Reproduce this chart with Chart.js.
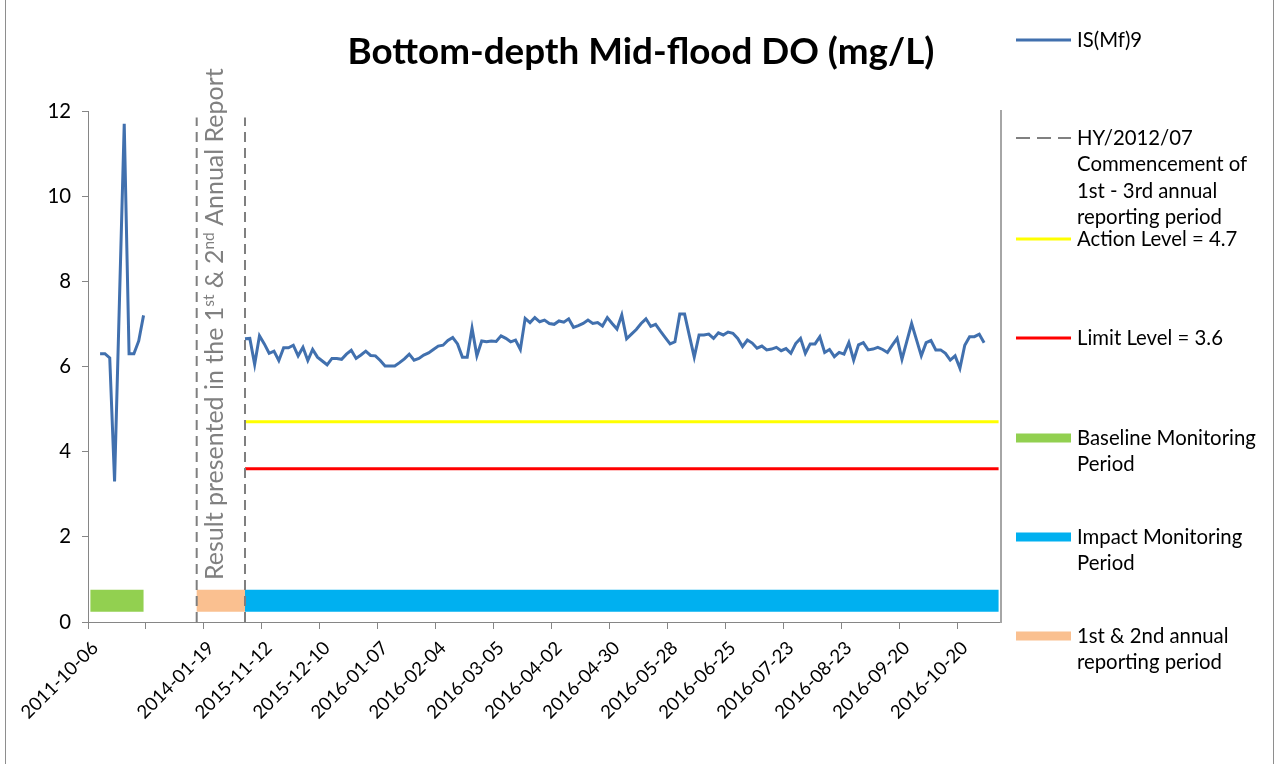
<!DOCTYPE html>
<html>
<head>
<meta charset="utf-8">
<title>Bottom-depth Mid-flood DO (mg/L)</title>
<script src="https://cdn.jsdelivr.net/npm/chart.js@4.4.1/dist/chart.umd.min.js"></script>
<style>
    html, body { margin: 0; padding: 0; background: #ffffff; }
    #wrap { position: relative; width: 1282px; height: 764px; }
</style>
</head>
<body>
<div id="wrap"><canvas id="grafico" width="1282" height="764"></canvas></div>
<script>
// x values are sample slots on the category axis (one slot per sampling day)
const slotCount = 189;
const tickEvery = 12;
const tickLabels = ['2011-10-06', '', '2014-01-19', '2015-11-12', '2015-12-10', '2016-01-07', '2016-02-04',
    '2016-03-05', '2016-04-02', '2016-04-30', '2016-05-28', '2016-06-25', '2016-07-23', '2016-08-23',
    '2016-09-20', '2016-10-20'];

const baselineStart = 2;
const baselineDO = [6.3, 6.3, 6.2, 3.3, 7.5, 11.7, 6.3, 6.3, 6.6, 7.2];

const impactStart = 32;
const impactDO = [
    6.65, 6.66, 6.05, 6.72, 6.53, 6.31, 6.36, 6.14, 6.44, 6.44,
    6.50, 6.25, 6.45, 6.14, 6.40, 6.22, 6.13, 6.04, 6.19, 6.19,
    6.17, 6.29, 6.38, 6.19, 6.27, 6.36, 6.26, 6.25, 6.14, 6.01,
    6.01, 6.01, 6.09, 6.18, 6.29, 6.15, 6.19, 6.27, 6.32, 6.40,
    6.48, 6.50, 6.61, 6.68, 6.53, 6.22, 6.22, 6.90, 6.25, 6.60,
    6.58, 6.60, 6.59, 6.72, 6.66, 6.58, 6.62, 6.40, 7.13, 7.03,
    7.15, 7.05, 7.09, 7.01, 6.99, 7.07, 7.04, 7.12, 6.92, 6.96,
    7.01, 7.09, 7.01, 7.03, 6.95, 7.15, 7.01, 6.88, 7.21, 6.65,
    6.76, 6.87, 7.01, 7.12, 6.94, 6.99, 6.83, 6.68, 6.53, 6.58,
    7.23, 7.23, 6.72, 6.22, 6.74, 6.74, 6.76, 6.66, 6.79, 6.74,
    6.81, 6.78, 6.66, 6.47, 6.62, 6.55, 6.43, 6.48, 6.39, 6.41,
    6.45, 6.37, 6.42, 6.31, 6.54, 6.66, 6.31, 6.53, 6.53, 6.70,
    6.33, 6.40, 6.23, 6.33, 6.29, 6.56, 6.15, 6.51, 6.56, 6.39,
    6.41, 6.45, 6.40, 6.33, 6.50, 6.66, 6.17, 6.59, 7.01, 6.63,
    6.25, 6.56, 6.61, 6.39, 6.39, 6.31, 6.15, 6.25, 5.96, 6.50,
    6.70, 6.70, 6.76, 6.56
];

const actionLevel = 4.7;
const limitLevel = 3.6;

const baselinePeriod = [0, 11];
const reportPeriod = [22, 32];
const impactPeriod = [32, 188];
const reportMarkers = [22, 32];
const markerTop = 11.85;
const periodBarLevel = 0.5;

const FONT = 'Lato, "Open Sans", sans-serif';

function seriesPoints(start, values) {
    return values.map((v, i) => ({ x: start + i, y: v }));
}

function spanPoints(range, y) {
    return [{ x: range[0], y: y }, { x: range[1], y: y }];
}

// sizes fitted to the reference text widths
const measureCtx = document.createElement('canvas').getContext('2d');
function fitSize(text, weight, target) {
    measureCtx.font = weight + ' 100px ' + FONT;
    return 100 * target / measureCtx.measureText(text).width;
}
const textSize = fitSize('Baseline Monitoring', 'normal', 179);
const tickSize = fitSize('2011-10-06', 'normal', 100);
const titleSize = fitSize('Bottom-depth Mid-flood DO (mg/L)', 'bold', 587);

const legendItems = [
    { lines: ['IS(Mf)9'], color: '#4170ae', width: 3, y: 40 },
    { lines: ['HY/2012/07', 'Commencement of', '1st - 3rd annual', 'reporting period'], color: '#808080', width: 2, dash: [14, 7], y: 138 },
    { lines: ['Action Level = 4.7'], color: '#ffff00', width: 3, y: 239 },
    { lines: ['Limit Level = 3.6'], color: '#ff0000', width: 3, y: 338 },
    { lines: ['Baseline Monitoring', 'Period'], color: '#92d050', width: 9, y: 438 },
    { lines: ['Impact Monitoring', 'Period'], color: '#00b0f0', width: 9, y: 537 },
    { lines: ['1st & 2nd annual', 'reporting period'], color: '#fac090', width: 9, y: 636 }
];

const notePieces = [
    { t: 'Result presented in the 1' }, { t: 'st', sup: true }, { t: ' & 2' }, { t: 'nd', sup: true },
    { t: ' Annual Report' }
];

const extrasPlugin = {
    id: 'extras',
    afterDraw(chart) {
        const ctx = chart.ctx;
        ctx.save();

        // chart frame
        ctx.strokeStyle = '#8e8e8e';
        ctx.lineWidth = 1;
        ctx.beginPath();
        ctx.moveTo(5.5, 0); ctx.lineTo(5.5, 764);
        ctx.moveTo(1273.5, 0); ctx.lineTo(1273.5, 764);
        ctx.stroke();

        // title
        ctx.fillStyle = '#000000';
        ctx.font = 'bold ' + titleSize + 'px ' + FONT;
        ctx.textAlign = 'center';
        ctx.textBaseline = 'alphabetic';
        ctx.fillText('Bottom-depth Mid-flood DO (mg/L)', 641, 64);

        // legend
        ctx.textAlign = 'left';
        ctx.textBaseline = 'middle';
        ctx.font = textSize + 'px ' + FONT;
        legendItems.forEach(item => {
            ctx.strokeStyle = item.color;
            ctx.lineWidth = item.width;
            ctx.lineCap = 'butt';
            ctx.setLineDash(item.dash || []);
            ctx.beginPath();
            ctx.moveTo(1016, item.y);
            ctx.lineTo(1071, item.y);
            ctx.stroke();
            ctx.setLineDash([]);
            item.lines.forEach((line, k) => {
                ctx.fillText(line, 1077, item.y + k * 26.5);
            });
        });

        // rotated note between the report markers
        const base = 23;
        const supSize = base * 0.62;
        let total = 0;
        notePieces.forEach(p => {
            ctx.font = (p.sup ? supSize : base) + 'px ' + FONT;
            total += ctx.measureText(p.t).width;
        });
        const scale = 512 / total;
        ctx.translate(223, 580);
        ctx.rotate(-Math.PI / 2);
        ctx.fillStyle = '#808080';
        ctx.textBaseline = 'alphabetic';
        let x = 0;
        notePieces.forEach(p => {
            const size = (p.sup ? supSize : base) * scale;
            ctx.font = size + 'px ' + FONT;
            ctx.fillText(p.t, x, p.sup ? -base * scale * 0.38 : 0);
            x += ctx.measureText(p.t).width;
        });

        ctx.restore();
    }
};

const datasets = [
    {
        label: 'IS(Mf)9',
        data: seriesPoints(baselineStart, baselineDO).concat([{ x: baselineStart + baselineDO.length, y: null }], seriesPoints(impactStart, impactDO)),
        borderColor: '#4170ae',
        borderWidth: 3,
        pointRadius: 0,
        tension: 0,
        spanGaps: false
    }
];

reportMarkers.forEach(m => {
    datasets.push({
        label: 'HY/2012/07',
        data: [{ x: m, y: 0 }, { x: m, y: markerTop }],
        borderColor: '#7f7f7f',
        borderWidth: 2,
        borderDash: [10, 6],
        pointRadius: 0
    });
});

datasets.push(
    { label: 'Action Level = 4.7', data: spanPoints(impactPeriod, actionLevel), borderColor: '#ffff00', borderWidth: 3, pointRadius: 0 },
    { label: 'Limit Level = 3.6', data: spanPoints(impactPeriod, limitLevel), borderColor: '#ff0000', borderWidth: 3, pointRadius: 0 },
    { label: 'Baseline Monitoring Period', data: spanPoints(baselinePeriod, periodBarLevel), borderColor: '#92d050', borderWidth: 22, borderCapStyle: 'butt', pointRadius: 0 },
    { label: 'Impact Monitoring Period', data: spanPoints(impactPeriod, periodBarLevel), borderColor: '#00b0f0', borderWidth: 22, borderCapStyle: 'butt', pointRadius: 0 },
    { label: '1st & 2nd annual reporting period', data: spanPoints(reportPeriod, periodBarLevel), borderColor: '#fac090', borderWidth: 22, borderCapStyle: 'butt', pointRadius: 0 }
);

const axisGray = '#868686';

new Chart(document.getElementById('grafico').getContext('2d'), {
    type: 'line',
    data: { datasets: datasets },
    plugins: [extrasPlugin],
    options: {
        responsive: false,
        animation: false,
        devicePixelRatio: 1,
        layout: { padding: { left: 0, right: 281, top: 111, bottom: 0 } },
        plugins: {
            legend: { display: false },
            tooltip: { enabled: false }
        },
        scales: {
            x: {
                type: 'linear',
                min: -0.5,
                max: slotCount - 0.5,
                afterBuildTicks: function(scale) {
                    scale.ticks = tickLabels.map((t, k) => ({ value: k * tickEvery - 0.5 }));
                },
                afterFit: function(scale) { scale.height = 764 - 622; },
                ticks: {
                    autoSkip: false,
                    maxRotation: 45,
                    minRotation: 45,
                    padding: 8,
                    labelOffset: 7,
                    color: '#000000',
                    font: { family: FONT, size: tickSize },
                    callback: function(value, index) { return tickLabels[index]; }
                },
                grid: { drawOnChartArea: false, drawTicks: true, tickLength: 7, color: axisGray },
                border: { color: axisGray, width: 1 }
            },
            y: {
                min: 0,
                max: 12,
                afterFit: function(scale) { scale.width = 88; },
                ticks: {
                    stepSize: 2,
                    padding: 11,
                    color: '#000000',
                    font: { family: FONT, size: textSize }
                },
                grid: { drawOnChartArea: false, drawTicks: true, tickLength: 6, color: axisGray },
                border: { color: axisGray, width: 1 }
            },
            y2: {
                position: 'right',
                min: 0,
                max: 12,
                afterFit: function(scale) { scale.width = 0; },
                ticks: { display: false },
                grid: { drawOnChartArea: false, drawTicks: false },
                border: { color: '#a6a6a6', width: 2 }
            }
        }
    }
});
</script>
</body>
</html>
